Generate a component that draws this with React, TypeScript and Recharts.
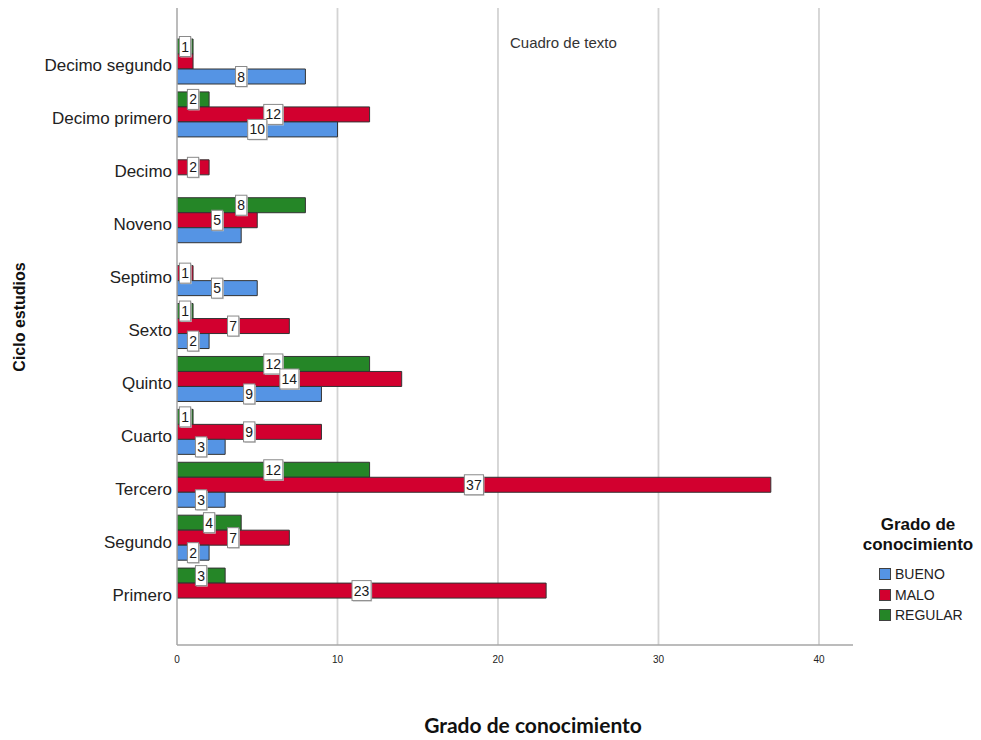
import React from "react";
import { BarChart, Bar, XAxis, YAxis, CartesianGrid, LabelList, Label } from "recharts";

// Ciclo de estudios, de arriba hacia abajo
const ciclos = [
  "Decimo segundo",
  "Decimo primero",
  "Decimo",
  "Noveno",
  "Septimo",
  "Sexto",
  "Quinto",
  "Cuarto",
  "Tercero",
  "Segundo",
  "Primero",
];

// Recuentos por grado de conocimiento (null = sin casos)
const bueno = [8, 10, null, 4, 5, 2, 9, 3, 3, 2, null];
const malo = [1, 12, 2, 5, 1, 7, 14, 9, 37, 7, 23];
const regular = [1, 2, null, 8, null, 1, 12, 1, 12, 4, 3];

// Etiquetas de valor omitidas por solaparse con otras
const ocultasBueno = ["Noveno"];
const ocultasMalo = ["Decimo segundo"];
const ocultasRegular: string[] = [];

const xTicks = [0, 10, 20, 30, 40];
const gridValues = [10, 20, 30, 40];

const COLORS = {
  bueno: "#5594e4",
  malo: "#d2002f",
  regular: "#258627",
};

const FONT = "'Liberation Sans', Arial, sans-serif";

const data = ciclos.map((ciclo, i) => ({
  ciclo,
  bueno: bueno[i],
  malo: malo[i],
  regular: regular[i],
  buenoLbl: ocultasBueno.includes(ciclo) ? null : bueno[i],
  maloLbl: ocultasMalo.includes(ciclo) ? null : malo[i],
  regularLbl: ocultasRegular.includes(ciclo) ? null : regular[i],
}));

// Caja blanca con el valor, centrada en la mitad de la barra
const ValueBox = (props: any) => {
  const { x, y, width, height, value } = props;
  if (value === null || value === undefined) return null;
  const txt = String(value);
  const w = txt.length * 7.8 + 3.5;
  const h = 20;
  const cx = Number(x) + Number(width) / 2;
  const cy = Number(y) + Number(height) / 2;
  return (
    <g>
      <rect x={cx - w / 2 + 1} y={cy - h / 2 + 1} width={w} height={h} fill="#c8c8c8" />
      <rect x={cx - w / 2} y={cy - h / 2} width={w} height={h} fill="#ffffff" stroke="#8a8a8a" strokeWidth={1} />
      <text
        x={cx}
        y={cy + 5}
        textAnchor="middle"
        fontFamily={FONT}
        fontSize={14}
        fill="#1a1a1a"
      >
        {txt}
      </text>
    </g>
  );
};

// Líneas de rejilla verticales solo en los valores 10..40
const gridGenerator = (args: any) => {
  const scale = args?.xAxis?.scale;
  if (scale) {
    const fn = typeof scale === "function" ? scale : scale.map ? (v: number) => scale.map(v) : null;
    if (fn) return gridValues.map((v) => fn(v));
  }
  return [];
};

const legendItems = [
  { key: "bueno", label: "BUENO" },
  { key: "malo", label: "MALO" },
  { key: "regular", label: "REGULAR" },
];

const LegendBox = () => (
  <div style={{ position: "absolute", left: 856, top: 515, fontFamily: FONT, color: "#111" }}>
    <div style={{ textAlign: "center", fontWeight: "bold", fontSize: 17, lineHeight: "20px", width: 124 }}>
      Grado de
      <br />
      conocimiento
    </div>
    <div style={{ marginTop: 9, marginLeft: 23 }}>
      {legendItems.map((it) => (
        <div key={it.key} style={{ display: "flex", alignItems: "center", height: 20.5 }}>
          <span
            style={{
              display: "inline-block",
              width: 12,
              height: 12,
              background: (COLORS as any)[it.key],
              border: "1px solid #404040",
              boxSizing: "border-box",
              marginRight: 4,
            }}
          />
          <span style={{ fontSize: 14, color: "#222" }}>{it.label}</span>
        </div>
      ))}
    </div>
  </div>
);

export default function App() {
  return (
    <div style={{ position: "fixed", left: 0, top: 0, width: 981, height: 740, background: "#fff" }}>
      <BarChart
        width={981}
        height={740}
        data={data}
        layout="vertical"
        margin={{ top: 8, right: 128, bottom: 65, left: 0 }}
        barGap={0}
      >
        <CartesianGrid
          horizontal={false}
          stroke="#d3d3d3"
          strokeWidth={1.8}
          verticalCoordinatesGenerator={gridGenerator}
        />
        <XAxis
          type="number"
          domain={[0, 42.12]}
          ticks={xTicks}
          allowDataOverflow
          tickLine={false}
          tickSize={0}
          tickMargin={11}
          axisLine={{ stroke: "#a6a6a6", strokeWidth: 1.5 }}
          tick={{ fontSize: 10, fill: "#222", fontFamily: FONT }}
          height={30}
        >
          <Label
            content={(p: any) => (
              <text
                x={533}
                y={p.viewBox.y + 88}
                textAnchor="middle"
                fontFamily="Lato, 'Open Sans', sans-serif"
                fontWeight="bold"
                fontSize={21}
                fill="#111"
              >
                Grado de conocimiento
              </text>
            )}
          />
        </XAxis>
        <YAxis
          type="category"
          dataKey="ciclo"
          width={177}
          tickLine={false}
          tickSize={0}
          tickMargin={5}
          padding={{ top: 27, bottom: 28 }}
          axisLine={{ stroke: "#a6a6a6", strokeWidth: 1.5 }}
          tick={{ fontSize: 17, fill: "#222", fontFamily: FONT, dy: 4 }}
          interval={0}
        >
          <Label
            content={() => (
              <text
                x={0}
                y={0}
                transform="translate(25, 317) rotate(-90)"
                textAnchor="middle"
                fontFamily={FONT}
                fontWeight="bold"
                fontSize={16}
                fill="#111"
              >
                Ciclo estudios
              </text>
            )}
          />
        </YAxis>
        <Bar dataKey="regular" name="REGULAR" fill={COLORS.regular} stroke="#333" strokeWidth={1} barSize={15} isAnimationActive={false}>
          <LabelList dataKey="regularLbl" content={ValueBox} />
        </Bar>
        <Bar dataKey="malo" name="MALO" fill={COLORS.malo} stroke="#333" strokeWidth={1} barSize={15} isAnimationActive={false}>
          <LabelList dataKey="maloLbl" content={ValueBox} />
        </Bar>
        <Bar dataKey="bueno" name="BUENO" fill={COLORS.bueno} stroke="#333" strokeWidth={1} barSize={15} isAnimationActive={false}>
          <LabelList dataKey="buenoLbl" content={ValueBox} />
        </Bar>
      </BarChart>
      <LegendBox />
      <div
        style={{
          position: "absolute",
          left: 510,
          top: 34,
          fontFamily: FONT,
          fontSize: 15,
          color: "#333",
          whiteSpace: "nowrap",
        }}
      >
        Cuadro de texto
      </div>
    </div>
  );
}
